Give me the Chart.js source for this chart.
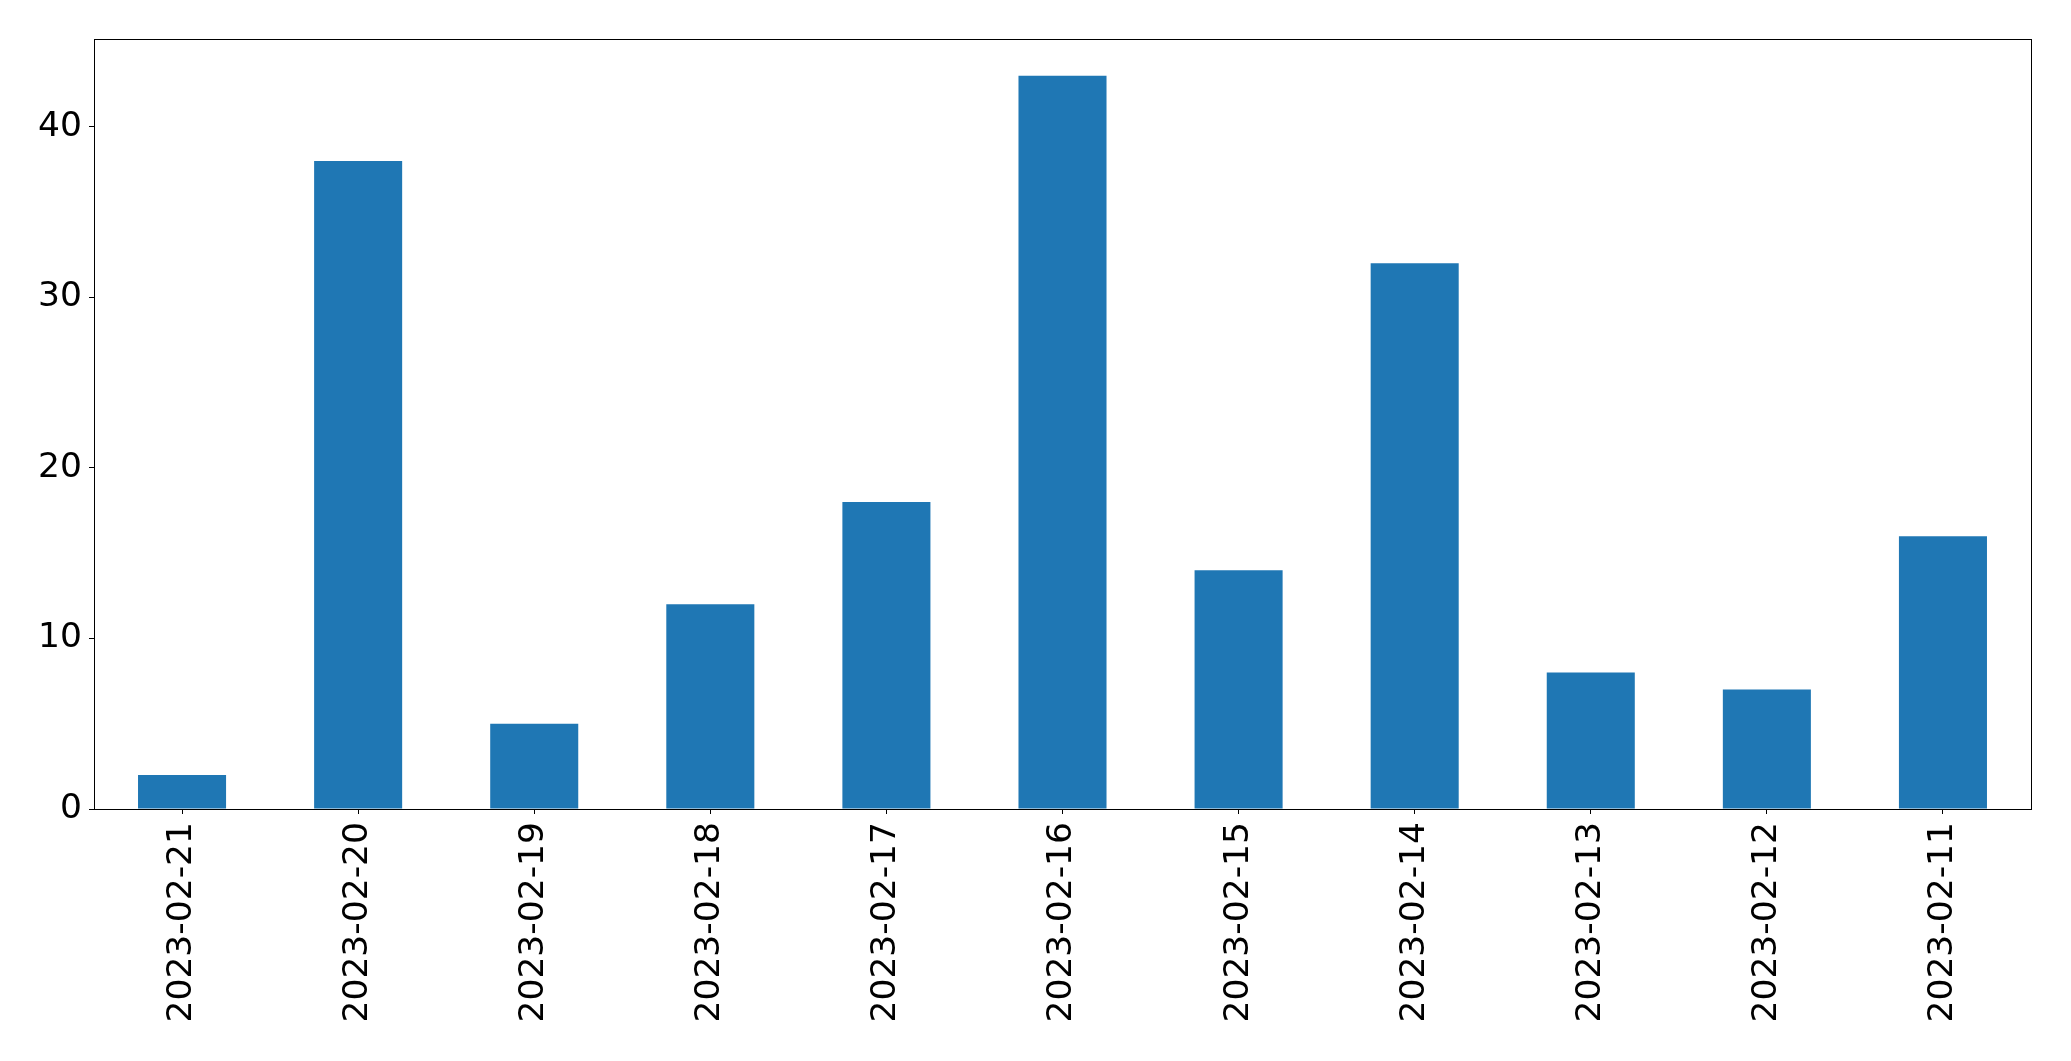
<!DOCTYPE html>
<html>
<head>
<meta charset="utf-8">
<script src="https://cdn.jsdelivr.net/npm/chart.js@4"></script>
<style>
html,body{margin:0;padding:0;background:#fff;}
#wrap{width:2071px;height:1061px;}
</style>
</head>
<body>
<div id="wrap"><canvas id="c" width="2071" height="1061"></canvas></div>
<script>
const categories = ["2023-02-21","2023-02-20","2023-02-19","2023-02-18","2023-02-17","2023-02-16","2023-02-15","2023-02-14","2023-02-13","2023-02-12","2023-02-11"];
const values = [2, 38, 5, 12, 18, 43, 14, 32, 8, 7, 16];
const yTicks = [0, 10, 20, 30, 40];

const frame = {
  id: 'frame',
  afterDraw(chart) {
    const a = chart.chartArea, ctx = chart.ctx;
    ctx.save();
    ctx.strokeStyle = '#000';
    ctx.lineWidth = 1;
    ctx.strokeRect(Math.round(a.left) + 0.5, Math.round(a.top) + 0.5, Math.round(a.right - a.left), Math.round(a.bottom - a.top));
    ctx.restore();
  }
};

new Chart(document.getElementById('c'), {
  type: 'bar',
  data: {
    labels: categories,
    datasets: [{
      data: values,
      backgroundColor: '#1f77b4',
      borderWidth: 0,
      barPercentage: 0.5,
      categoryPercentage: 1.0
    }]
  },
  options: {
    responsive: false,
    animation: false,
    devicePixelRatio: 1,
    layout: { padding: { left: 0, top: 39, right: 40, bottom: 0 } },
    plugins: { legend: { display: false }, tooltip: { enabled: false } },
    scales: {
      x: {
        offset: true,
        grid: { display: true, drawOnChartArea: false, drawTicks: true, tickLength: 5, color: '#000', offset: false },
        border: { display: false },
        ticks: {
          color: '#000',
          font: { family: 'DejaVu Sans', size: 34.5 },
          minRotation: 90, maxRotation: 90,
          padding: 8,
          autoSkip: false
        },
        afterFit(s) { s.height = 1061 - 809; }
      },
      y: {
        min: 0,
        max: 45.15,
        afterBuildTicks(s) { s.ticks = yTicks.map(v => ({ value: v })); },
        grid: { display: true, drawOnChartArea: false, drawTicks: true, tickLength: 5, color: '#000' },
        border: { display: false },
        ticks: {
          color: '#000',
          font: { family: 'DejaVu Sans', size: 34.5 },
          padding: 7
        },
        afterFit(s) { s.width = 94; }
      }
    }
  },
  plugins: [frame]
});
</script>
</body>
</html>
